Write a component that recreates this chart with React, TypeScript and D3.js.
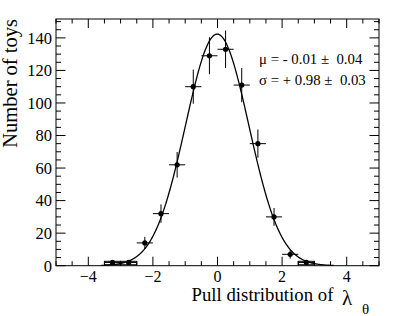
import React from "react";
import * as d3 from "d3";

const binCenters = [-3.25, -2.75, -2.25, -1.75, -1.25, -0.75, -0.25, 0.25, 0.75, 1.25, 1.75, 2.25, 2.75];
const counts = [2, 2, 14, 32, 62, 110, 129, 133, 111, 75, 30, 7, 2];
const binHalfWidth = 0.25;
const lowBoxes = [
  { x0: -3.5, x1: -3.0, y0: 0.6, y1: 2.7 },
  { x0: -3.0, x1: -2.5, y0: 0.6, y1: 2.7 },
  { x0: 2.5, x1: 3.0, y0: 0.6, y1: 2.7 },
];
const fitParams = { amp: 142.3, mu: -0.01, sigma: 0.98, xmin: -3.6, xmax: 3.6 };
const xTicks = [-4, -2, 0, 2, 4];
const yTicks = [0, 20, 40, 60, 80, 100, 120, 140];
const fitLines = ["μ = - 0.01 ±  0.04", "σ = + 0.98 ±  0.03"];

const W = 399, H = 316;
const L = 56, R = 379, T = 19, B = 265.7;
const FONT = "'Liberation Serif', 'Times New Roman', serif";

export default function App() {
  const x = d3.scaleLinear().domain([-5, 5]).range([L, R]);
  const y = d3.scaleLinear().domain([0, 151.6]).range([B, T]);

  const xMinor = d3.range(-5, 5.001, 0.5);
  const yMinor = d3.range(0, 151, 5);

  const curvePts = d3.range(fitParams.xmin, fitParams.xmax + 1e-9, 0.02).map((v) => [
    v,
    fitParams.amp * Math.exp(-((v - fitParams.mu) ** 2) / (2 * fitParams.sigma ** 2)),
  ]);
  const line = d3
    .line<number[]>()
    .x((d) => x(d[0]))
    .y((d) => y(d[1]));

  const fmt = (v: number) => (v < 0 ? "\u2212" + Math.abs(v) : String(v));

  return (
    <svg width={W} height={H} style={{ position: "absolute", left: 0, top: 0, background: "#fff" }}>
      <defs>
        <clipPath id="plot">
          <rect x={L} y={T} width={R - L} height={B - T} />
        </clipPath>
      </defs>
      {/* ticks */}
      <g stroke="#000" strokeWidth={1}>
        {xMinor.map((v, i) => {
          const major = xTicks.includes(Math.round(v * 100) / 100);
          const len = major ? 9 : 4.5;
          return (
            <g key={"xt" + i}>
              <line x1={x(v)} x2={x(v)} y1={B} y2={B - len} />
              <line x1={x(v)} x2={x(v)} y1={T} y2={T + len} />
            </g>
          );
        })}
        {yMinor.map((v, i) => {
          const major = v % 20 === 0;
          const len = major ? 9.5 : 5;
          return (
            <g key={"yt" + i}>
              <line x1={L} x2={L + len} y1={y(v)} y2={y(v)} />
              <line x1={R} x2={R - len} y1={y(v)} y2={y(v)} />
            </g>
          );
        })}
      </g>
      {/* frame */}
      <rect x={L} y={T} width={R - L} height={B - T} fill="none" stroke="#000" strokeWidth={1} />
      {/* tick labels */}
      <g fontFamily={FONT} fill="#000">
        {xTicks.map((v) => (
          <text key={"xl" + v} x={x(v)} y={282} fontSize={16} textAnchor="middle">
            {fmt(v)}
          </text>
        ))}
        {yTicks.map((v) => (
          <text key={"yl" + v} x={52} y={y(v) + 5.8} fontSize={16.5} textAnchor="end">
            {v}
          </text>
        ))}
      </g>
      {/* axis titles */}
      <text
        fontFamily={FONT}
        fontSize={20.5}
        transform={`translate(17,${T}) rotate(-90)`}
        textAnchor="end"
      >
        Number of toys
      </text>
      <text fontFamily={FONT} fontSize={18.8} x={191.5} y={300.5}>
        Pull distribution of
      </text>
      <text fontFamily={FONT} fontSize={21} x={342} y={304.5}>
        λ
      </text>
      <text fontFamily={FONT} fontSize={15} x={362} y={313.5}>
        θ
      </text>
      <g clipPath="url(#plot)">
        {/* low boxes */}
        {lowBoxes.map((b, i) => (
          <rect
            key={"lb" + i}
            x={x(b.x0)}
            y={y(b.y1)}
            width={x(b.x1) - x(b.x0)}
            height={y(b.y0) - y(b.y1)}
            fill="none"
            stroke="#000"
            strokeWidth={1}
          />
        ))}
        {/* fit */}
        <path d={line(curvePts) || ""} fill="none" stroke="#000" strokeWidth={1.3} />
        {/* error bars */}
        {binCenters.map((c, i) => {
          const v = counts[i];
          const e = Math.sqrt(v);
          return (
            <g key={"pt" + i} stroke="#000" strokeWidth={1}>
              <line x1={x(c - binHalfWidth)} x2={x(c + binHalfWidth)} y1={y(v)} y2={y(v)} />
              <line x1={x(c)} x2={x(c)} y1={y(v - e)} y2={y(v + e)} />
              <circle cx={x(c)} cy={y(v)} r={2.6} fill="#000" stroke="none" />
            </g>
          );
        })}
      </g>
      {/* fit text */}
      <g fontFamily={FONT} fontSize={14.8} fill="#000">
        {fitLines.map((s, i) => (
          <text key={"ft" + i} x={259} y={63.5 + i * 21} style={{ whiteSpace: "pre" }}>
            {s}
          </text>
        ))}
      </g>
    </svg>
  );
}
